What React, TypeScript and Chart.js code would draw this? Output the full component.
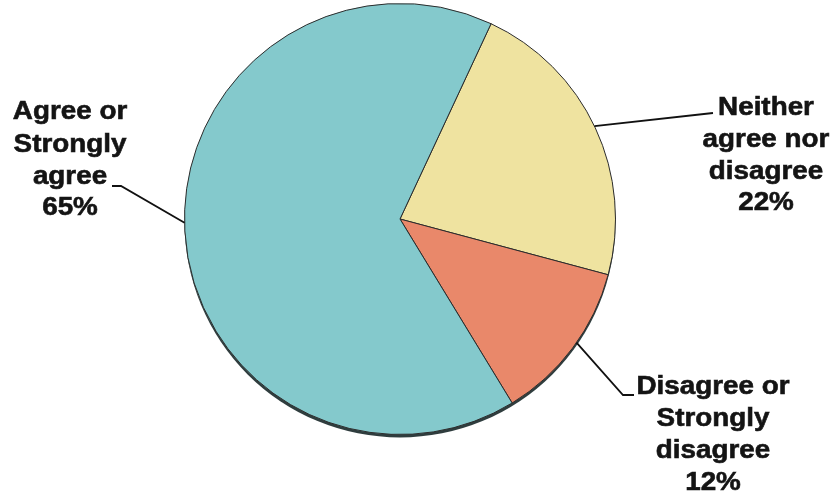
import React, { useEffect, useRef } from "react";
import { Chart, registerables } from "chart.js";

Chart.register(...registerables);

// ---- data ----
const categories = [
  "Neither agree nor disagree",
  "Disagree or Strongly disagree",
  "Agree or Strongly agree",
];
const values = [22, 12, 65];
const colors = ["#EFE3A0", "#E9886A", "#84C9CC"];
const labelText = [
  ["Neither", "agree nor", "disagree", "22%"],
  ["Disagree or", "Strongly", "disagree", "12%"],
  ["Agree or", "Strongly", "agree", "65%"],
];

// ---- label layout (positions only) ----
const labelCenterX = [766, 713, 70];
const labelLineY = [
  [108, 140, 172, 203],
  [387, 419, 451, 483],
  [112, 145, 177, 208],
];
const leaderEdgeAngle = [64.5, 125, 269]; // degrees clockwise from top
const leaderPoints: number[][][] = [
  [[713, 113]],
  [[623, 395], [634, 395]],
  [[121, 186], [112, 186]],
];

const labelPlugin = {
  id: "labelPlugin",
  beforeDatasetsDraw(chart: any) {
    const arc = chart.getDatasetMeta(0).data[0];
    if (!arc) return;
    const { x, y, outerRadius } = arc.getProps(["x", "y", "outerRadius"], true);
    const ctx = chart.ctx;
    ctx.save();
    ctx.beginPath();
    ctx.arc(x, y + 3, outerRadius, 0, Math.PI * 2);
    ctx.fillStyle = "#2f3d3e";
    ctx.fill();
    ctx.restore();
  },
  afterDraw(chart: any) {
    const arc = chart.getDatasetMeta(0).data[0];
    if (!arc) return;
    const { x, y, outerRadius } = arc.getProps(["x", "y", "outerRadius"], true);
    const ctx = chart.ctx;
    ctx.save();
    ctx.strokeStyle = "#111";
    ctx.lineWidth = 1.8;
    leaderEdgeAngle.forEach((deg, i) => {
      const t = (deg * Math.PI) / 180;
      const ex = x + outerRadius * Math.sin(t);
      const ey = y - outerRadius * Math.cos(t);
      ctx.beginPath();
      ctx.moveTo(ex, ey);
      leaderPoints[i].forEach((p) => ctx.lineTo(p[0], p[1]));
      ctx.stroke();
    });
    ctx.fillStyle = "#141414";
    ctx.strokeStyle = "#141414";
    ctx.lineWidth = 0.6;
    ctx.font = "bold 26px 'Liberation Sans', Arial, sans-serif";
    ctx.textAlign = "center";
    ctx.textBaseline = "middle";
    labelText.forEach((lines, i) => {
      lines.forEach((line, j) => {
        ctx.save();
        ctx.translate(labelCenterX[i], labelLineY[i][j]);
        ctx.scale(1.07, 1);
        ctx.fillText(line, 0, 0);
        ctx.strokeText(line, 0, 0);
        ctx.restore();
      });
    });
    ctx.restore();
  },
};

export default function App() {
  const ref = useRef<HTMLCanvasElement | null>(null);
  useEffect(() => {
    if (!ref.current) return;
    const chart = new Chart(ref.current, {
      type: "pie",
      data: {
        labels: categories,
        datasets: [
          {
            data: values,
            backgroundColor: colors,
            borderColor: "#2c2c2c",
            borderWidth: 1,
          },
        ],
      },
      options: {
        animation: false,
        responsive: false,
        maintainAspectRatio: false,
        devicePixelRatio: 1,
        rotation: 25,
        layout: { padding: { top: 3, bottom: 61, left: 0, right: 33 } },
        plugins: {
          legend: { display: false },
          tooltip: { enabled: false },
        },
      },
      plugins: [labelPlugin],
    });
    return () => chart.destroy();
  }, []);
  return (
    <div style={{ position: "fixed", left: 0, top: 0, width: 833, height: 496, background: "#fff" }}>
      <canvas ref={ref} width={833} height={496} style={{ width: 833, height: 496 }} />
    </div>
  );
}
